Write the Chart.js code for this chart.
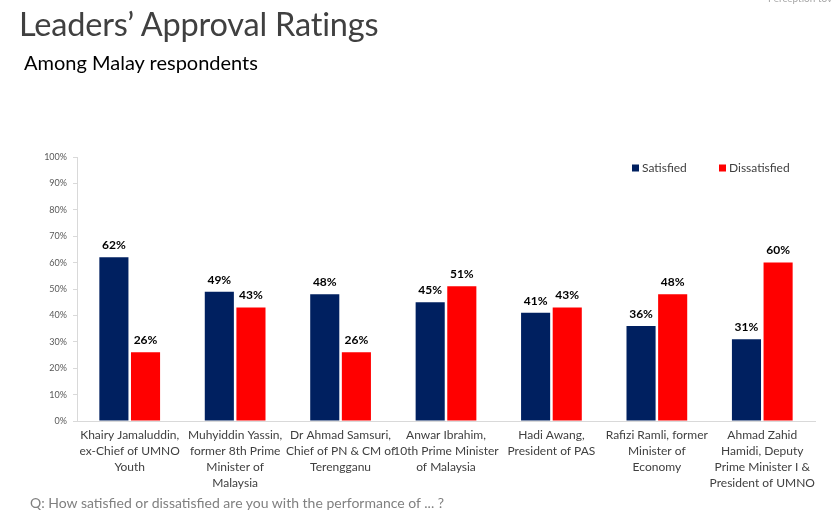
<!DOCTYPE html>
<html>
<head>
<meta charset="utf-8">
<script src="https://cdn.jsdelivr.net/npm/chart.js@4"></script>
<style>
  html, body { margin: 0; padding: 0; background: #fff; }
  #wrap { position: relative; width: 832px; height: 512px; overflow: hidden; font-family: Lato, "Open Sans", sans-serif; }
  #title { position: absolute; left: 19px; top: 4px; font-size: 32.5px; font-weight: 400; color: #404040; white-space: nowrap; letter-spacing: -0.2px; }
  #sub { position: absolute; left: 24px; top: 50px; font-size: 20px; color: #000; white-space: nowrap; }
  #q { position: absolute; left: 30px; top: 494px; font-size: 14px; color: #808080; white-space: nowrap; }
  #corner { position: absolute; left: 768px; top: -8px; font-size: 10px; color: #a6a6a6; white-space: nowrap; }
  canvas { position: absolute; left: 0; top: 0; }
</style>
</head>
<body>
<div id="wrap">
  <canvas id="c" width="832" height="512"></canvas>
  <div id="title">Leaders’ Approval Ratings</div>
  <div id="sub">Among Malay respondents</div>
  <div id="q">Q: How satisfied or dissatisfied are you with the performance of ... ?</div>
  <div id="corner">Perception tov</div>
</div>
<script>
const categories = [
  ["Khairy Jamaluddin,", "ex-Chief of UMNO", "Youth"],
  ["Muhyiddin Yassin,", "former 8th Prime", "Minister of", "Malaysia"],
  ["Dr Ahmad Samsuri,", "Chief of PN & CM of", "Terengganu"],
  ["Anwar Ibrahim,", "10th Prime Minister", "of Malaysia"],
  ["Hadi Awang,", "President of PAS"],
  ["Rafizi Ramli, former", "Minister of", "Economy"],
  ["Ahmad Zahid", "Hamidi, Deputy", "Prime Minister I &", "President of UMNO"]
];
const satisfied = [62, 49, 48, 45, 41, 36, 31];
const dissatisfied = [26, 43, 26, 51, 43, 48, 60];
const yTicks = [0, 10, 20, 30, 40, 50, 60, 70, 80, 90, 100];

const FONT = 'Lato, "Open Sans", sans-serif';

const labelPlugin = {
  id: 'barLabels',
  afterDatasetsDraw(chart) {
    const ctx = chart.ctx;
    ctx.save();
    ctx.font = 'bold 12px ' + FONT;
    ctx.fillStyle = '#000';
    ctx.textAlign = 'center';
    ctx.textBaseline = 'bottom';
    chart.data.datasets.forEach((ds, i) => {
      chart.getDatasetMeta(i).data.forEach((bar, j) => {
        ctx.fillText(ds.data[j] + '%', bar.x, bar.y - 6);
      });
    });
    ctx.restore();
  }
};

const legendPlugin = {
  id: 'innerLegend',
  afterDraw(chart) {
    const ctx = chart.ctx;
    const a = chart.chartArea;
    ctx.save();
    ctx.font = '12px ' + FONT;
    ctx.textBaseline = 'middle';
    ctx.textAlign = 'left';
    const y = a.top + 11;
    const starts = [a.left + 555, a.left + 642];
    chart.data.datasets.forEach((ds, i) => {
      const x = starts[i];
      ctx.fillStyle = ds.backgroundColor;
      ctx.fillRect(x, y - 3.5, 7, 7);
      ctx.fillStyle = '#404040';
      ctx.fillText(ds.label, x + 10, y);
    });
    ctx.restore();
  }
};

new Chart(document.getElementById('c'), {
  type: 'bar',
  data: {
    labels: categories,
    datasets: [
      { label: 'Satisfied', data: satisfied, backgroundColor: '#002060' },
      { label: 'Dissatisfied', data: dissatisfied, backgroundColor: '#ff0000' }
    ]
  },
  options: {
    responsive: false,
    animation: false,
    layout: { padding: { left: 0, right: 17, top: 157, bottom: 21 } },
    plugins: {
      legend: { display: false },
      tooltip: { enabled: false }
    },
    datasets: { bar: { categoryPercentage: 0.6, barPercentage: 0.92 } },
    scales: {
      x: {
        grid: { display: false, drawTicks: false },
        border: { display: true, color: '#d9d9d9' },
        ticks: {
          color: '#404040', maxRotation: 0, autoSkip: false, padding: 6,
          font: { size: 12, family: FONT, lineHeight: 1.33 }
        },
        afterFit(s) { s.height = 70; }
      },
      y: {
        min: 0, max: 100,
        afterBuildTicks(s) { s.ticks = yTicks.map(v => ({ value: v })); },
        grid: { drawOnChartArea: false, drawTicks: true, tickLength: 4, color: '#d9d9d9' },
        border: { display: true, color: '#d9d9d9' },
        ticks: {
          color: '#595959', padding: 6,
          font: { size: 9, family: FONT },
          callback: v => v + '%'
        },
        afterFit(s) { s.width = 77; }
      }
    }
  },
  plugins: [labelPlugin, legendPlugin]
});
</script>
</body>
</html>
